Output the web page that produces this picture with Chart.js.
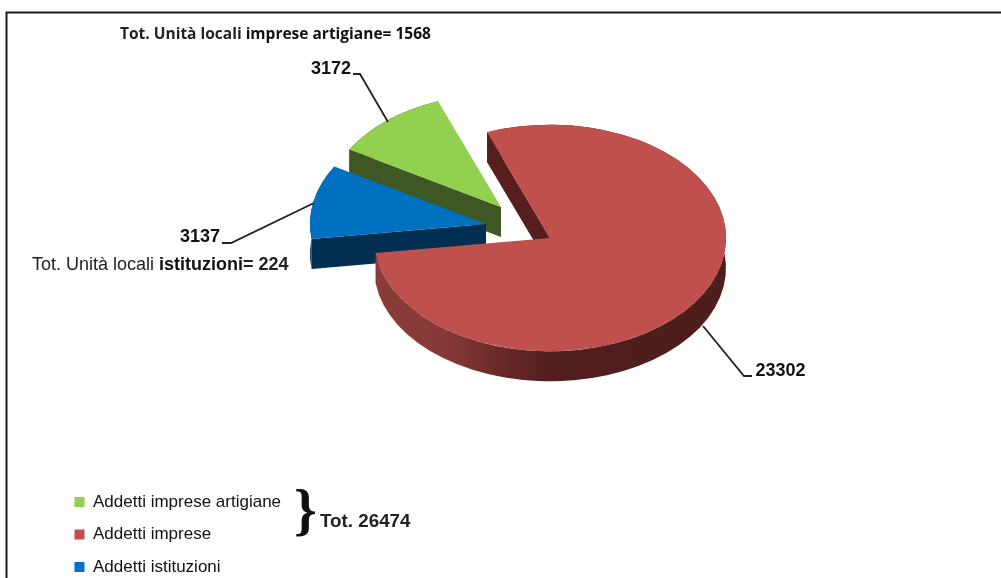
<!DOCTYPE html>
<html>
<head>
<meta charset="utf-8">
<style>
  html, body { margin: 0; padding: 0; background: #fff; overflow: hidden; }
  canvas { display: block; filter: blur(0.4px); }
</style>
<script src="https://cdn.jsdelivr.net/npm/chart.js@4"></script>
</head>
<body>
<canvas id="torta" width="1001" height="578"></canvas>
<script>
// Dati
const categorie = ['Addetti imprese artigiane', 'Addetti imprese', 'Addetti istituzioni'];
const addetti = [3172, 23302, 3137];
const coloriSopra = ['#92D050', '#C0504D', '#0070C0'];
const coloriLato = ['#3F5722', '#561F1E', '#002F52'];

// Geometria della torta 3D
const CENTRO_X = 550;
const CENTRO_Y = 238;
const RAGGIO = 176;
const SCHIACCIA = 0.644;
const SPESSORE = 30;
const staccoX = [-49, 0, -64];
const staccoY = [-31, 0, -14];

// Linee guida delle etichette [fetta, testo x, testo y, punti della linea]
const guide = [
  [0, 331, 69, [[353, 74], [360, 74], [388, 122]]],
  [1, 780.5, 371, [[703, 326], [744, 376], [752, 376]]],
  [2, 200, 237, [[222, 243], [231, 243], [314, 203]]]
];

function disegnaFetta(ctx, arco, i) {
  const alto = SPESSORE / SCHIACCIA;
  const r = arco.outerRadius;
  const ang = arco.startAngle;

  ctx.save();
  ctx.translate(staccoX[i], staccoY[i] / SCHIACCIA);

  // bordo esterno
  ctx.fillStyle = coloriLato[i];
  if (i === 1) {
    const grad = ctx.createLinearGradient(arco.x - r, 0, arco.x + r, 0);
    grad.addColorStop(0, '#8A3C39');
    grad.addColorStop(0.2, '#873937');
    grad.addColorStop(0.33, '#6F2C2B');
    grad.addColorStop(0.5, '#511E1D');
    grad.addColorStop(1, '#4E1D1C');
    ctx.fillStyle = grad;
  }
  ctx.beginPath();
  ctx.arc(arco.x, arco.y, r, arco.startAngle, arco.endAngle);
  ctx.arc(arco.x, arco.y + alto, r, arco.endAngle, arco.startAngle, true);
  ctx.closePath();
  ctx.fill();

  // parete del taglio: da questo punto di vista si vede solo quella iniziale
  ctx.fillStyle = coloriLato[i];
  ctx.beginPath();
  ctx.moveTo(arco.x, arco.y);
  ctx.lineTo(arco.x + Math.cos(ang) * r, arco.y + Math.sin(ang) * r);
  ctx.lineTo(arco.x + Math.cos(ang) * r, arco.y + Math.sin(ang) * r + alto);
  ctx.lineTo(arco.x, arco.y + alto);
  ctx.closePath();
  ctx.fill();

  // faccia superiore, disegnata dall'elemento di Chart.js
  arco.draw(ctx);
  ctx.restore();
}

const torta3D = {
  id: 'torta3D',
  beforeDatasetsDraw(chart) {
    const ctx = chart.ctx;
    const archi = chart.getDatasetMeta(0).data;
    ctx.save();
    ctx.translate(CENTRO_X, CENTRO_Y);
    ctx.scale(1, SCHIACCIA);
    ctx.translate(-archi[0].x, -archi[0].y);
    // prima il verde, poi il blu, il rosso sta davanti
    [0, 2, 1].forEach(i => disegnaFetta(ctx, archi[i], i));
    ctx.restore();
    return false;
  },
  afterDraw(chart) {
    const ctx = chart.ctx;
    ctx.save();

    // cornice: solo alto e sinistra
    ctx.strokeStyle = '#1a1a1a';
    ctx.lineWidth = 2;
    ctx.beginPath();
    ctx.moveTo(6.5, 578);
    ctx.lineTo(6.5, 12.5);
    ctx.lineTo(1001, 12.5);
    ctx.stroke();

    // linee guida e valori
    ctx.fillStyle = '#111';
    ctx.strokeStyle = '#222';
    ctx.lineWidth = 1.8;
    ctx.textAlign = 'center';
    ctx.textBaseline = 'middle';
    ctx.font = 'bold 18px "Liberation Sans"';
    guide.forEach(function(g) {
      ctx.beginPath();
      g[3].forEach((p, n) => n ? ctx.lineTo(p[0], p[1]) : ctx.moveTo(p[0], p[1]));
      ctx.stroke();
      ctx.fillText(addetti[g[0]], g[1], g[2]);
    });

    // note
    ctx.textAlign = 'left';
    scriviMisto(ctx, 120, 35, [['Tot. Unità locali ', 'bold 15.5px "Open Sans"', '#222'], ['imprese artigiane= 1568', 'bold 15.5px "Open Sans"', '#111']]);
    scriviMisto(ctx, 32, 265, [['Tot. Unità locali ', '18px "Liberation Sans"', '#222'], ['istituzioni', 'bold 18px "Liberation Sans"', '#111'], ['= 224', 'bold 18px "Liberation Sans"', '#222']]);
    ctx.font = 'bold 18.8px "Liberation Sans"';
    ctx.fillStyle = '#222';
    ctx.fillText('Tot. 26474', 320, 522);
    ctx.font = 'bold 58px "Liberation Serif"';
    ctx.fillStyle = '#111';
    ctx.fillText('}', 294, 514);
    ctx.restore();
  }
};

function scriviMisto(ctx, x, y, pezzi) {
  pezzi.forEach(function(p) {
    ctx.font = p[1];
    ctx.fillStyle = p[2];
    ctx.fillText(p[0], x, y);
    x += ctx.measureText(p[0]).width;
  });
}

new Chart(document.getElementById('torta'), {
  type: 'pie',
  data: {
    labels: categorie,
    datasets: [{
      data: addetti,
      backgroundColor: coloriSopra,
      borderWidth: 0
    }]
  },
  options: {
    responsive: false,
    animation: false,
    rotation: -59.5,
    radius: RAGGIO,
    layout: { padding: { left: 59, bottom: -13 } },
    plugins: {
      tooltip: { enabled: false },
      legend: {
        position: 'left',
        align: 'end',
        labels: {
          boxWidth: 10,
          boxHeight: 10,
          padding: 15.5,
          color: '#111',
          font: { family: '"Liberation Sans"', size: 17 }
        }
      }
    }
  },
  plugins: [torta3D]
});
</script>
</body>
</html>
